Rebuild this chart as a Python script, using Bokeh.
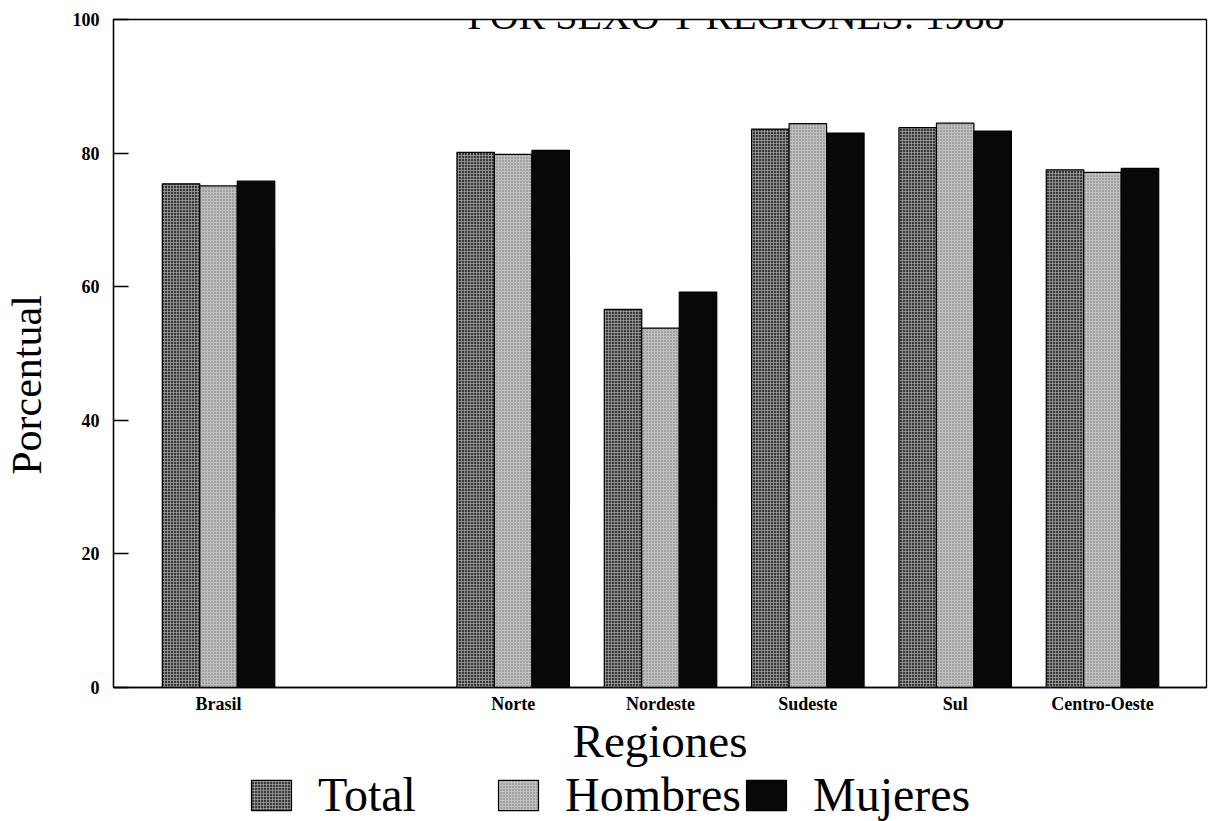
from bokeh.plotting import figure
from bokeh.layouts import column
from bokeh.models import (Range1d, FixedTicker, Label, Legend, LegendItem,
                          ColumnDataSource)
from bokeh.transform import dodge
from bokeh.embed import file_html
from bokeh.resources import INLINE

# ---- data ----
categories = ["Brasil", "", "Norte", "Nordeste", "Sudeste", "Sul", "Centro-Oeste"]
total   = [75.4, None, 80.1, 56.6, 83.6, 83.8, 77.5]
hombres = [75.1, None, 79.8, 53.8, 84.4, 84.5, 77.1]
mujeres = [75.8, None, 80.4, 59.2, 83.0, 83.3, 77.7]
series_names = ["Total", "Hombres", "Mujeres"]
y_ticks = [0, 20, 40, 60, 80, 100]
title_text = "POR SEXO Y REGIONES: 1988"
x_title = "Regiones"
y_title = "Porcentual"

idx = [i for i, c in enumerate(categories) if c]
src = ColumnDataSource(dict(
    x=idx,
    total=[total[i] for i in idx],
    hombres=[hombres[i] for i in idx],
    mujeres=[mujeres[i] for i in idx],
))

SERIF = "Liberation Serif"
BW = 0.2545
NBSP = "\u00a0"

p = figure(frame_width=1093, frame_height=668,
           min_border_left=111, min_border_right=4,
           min_border_top=19, min_border_bottom=80,
           x_range=Range1d(-0.713, 6.706), y_range=Range1d(0, 100),
           output_backend="svg", toolbar_location=None, tools="")

styles = [
    dict(fill_color="#3a3a3a", hatch_pattern="+", hatch_color="#b8b8b8",
         hatch_scale=3, hatch_weight=0.6),
    dict(fill_color="#c0c0c0", hatch_pattern=".", hatch_color="#707070",
         hatch_scale=3, hatch_weight=0.8),
    dict(fill_color="#080808"),
]
cols = ["total", "hombres", "mujeres"]
renderers = []
for k, (col, off) in enumerate(zip(cols, [-BW, 0, BW])):
    r = p.vbar(x=dodge("x", off), top=col, bottom=0, width=BW, source=src,
               line_color="black", line_width=1.2, **styles[k])
    renderers.append(r)

# axes
p.xgrid.visible = False
p.ygrid.visible = False
p.outline_line_color = "black"
p.outline_line_width = 1.3

ya = p.yaxis[0]
ya.ticker = FixedTicker(ticks=y_ticks)
ya.major_tick_in = 15
ya.major_tick_out = 0
ya.minor_tick_line_color = None
ya.axis_line_width = 1.3
ya.major_tick_line_width = 1.3
ya.major_label_standoff = 14
ya.major_label_text_font = SERIF
ya.major_label_text_font_style = "bold"
ya.major_label_text_font_size = "18px"
ya.major_label_text_color = "black"
# non-breaking spaces push the rotated title a little lower, as in the reference
ya.axis_label = y_title + NBSP * 6
ya.axis_label_text_font = SERIF
ya.axis_label_text_font_style = "normal"
ya.axis_label_text_font_size = "42px"
ya.axis_label_standoff = 20
ya.axis_label_text_color = "black"

xa = p.xaxis[0]
xa.ticker = FixedTicker(ticks=idx)
xa.major_label_overrides = {i: categories[i] for i in idx}
xa.major_tick_in = 0
xa.major_tick_out = 0
xa.minor_tick_line_color = None
xa.axis_line_width = 1.3
xa.major_label_standoff = 6
xa.major_label_text_font = SERIF
xa.major_label_text_font_style = "bold"
xa.major_label_text_font_size = "18px"
xa.major_label_text_color = "black"
xa.axis_label = x_title
xa.axis_label_text_font = SERIF
xa.axis_label_text_font_style = "normal"
xa.axis_label_text_font_size = "47px"
xa.axis_label_standoff = -2
xa.axis_label_text_color = "black"

# title, mostly cut off at the top of the page
p.add_layout(Label(x=5.355, y=100.6, text=title_text, text_align="right",
                   text_baseline="alphabetic", text_font=SERIF,
                   text_font_size="40px", text_color="black"))

# ---- legend strip below the chart ----
q = figure(width=p.frame_width + 115, height=53,
           min_border_left=0, min_border_right=0,
           min_border_top=0, min_border_bottom=0,
           x_range=Range1d(0, 1), y_range=Range1d(0, 1),
           x_axis_type=None, y_axis_type=None,
           output_backend="svg", toolbar_location=None, tools="")
q.outline_line_color = None
q.border_fill_color = "white"
q.background_fill_color = "white"
q.xgrid.visible = False
q.ygrid.visible = False
# swatch sources for the legend, lying wholly outside the strip's ranges
swatch = ColumnDataSource(dict(x=[-10], top=[-10]))
leg_renderers = [q.vbar(x="x", top="top", bottom=-20, width=0.1, source=swatch,
                        line_color="black", line_width=1.2, **styles[k])
                 for k in range(3)]
lg = Legend(items=[LegendItem(label=n, renderers=[r])
                   for n, r in zip(series_names, leg_renderers)],
            location=(133, 0), orientation="horizontal",
            glyph_width=50, glyph_height=38, label_standoff=22,
            label_width=175, padding=0, margin=0, spacing=0,
            border_line_alpha=0, background_fill_alpha=0,
            label_text_font=SERIF, label_text_font_size="48px",
            label_text_color="black")
q.add_layout(lg, "center")

layout = column(p, q, spacing=0)
open("out.html", "w").write(file_html(layout, INLINE))
